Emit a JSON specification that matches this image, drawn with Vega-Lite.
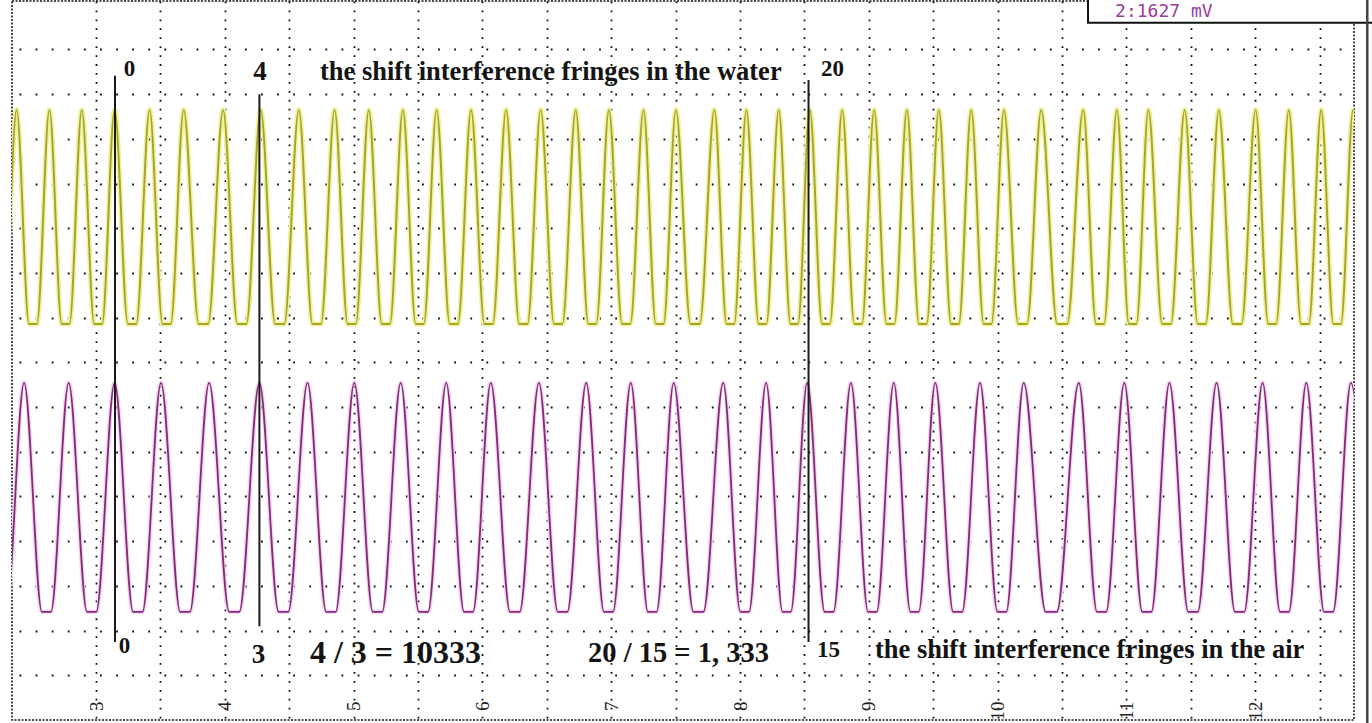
{
  "$schema": "https://vega.github.io/schema/vega-lite/v6.json",
  "autosize": {"type": "none"},
  "padding": {"left": 12, "top": 1, "right": 18, "bottom": 3},
  "width": 1342,
  "height": 719,
  "background": "white",
  "config": {
    "view": {"stroke": "#111", "strokeDash": [2, 1.5], "strokeWidth": 1.5}
  },
  "datasets": {
    "water": [{"t":2.2254,"v":8.86},{"t":2.2866,"v":8.86},{"t":2.3835,"v":13.65},{"t":2.4803,"v":8.86},{"t":2.5414,"v":8.86},{"t":2.6382,"v":13.65},{"t":2.7338,"v":8.86},{"t":2.7942,"v":8.86},{"t":2.8898,"v":13.65},{"t":2.9865,"v":8.86},{"t":3.0477,"v":8.86},{"t":3.1444,"v":13.65},{"t":3.2476,"v":8.86},{"t":3.3129,"v":8.86},{"t":3.4161,"v":13.65},{"t":3.5167,"v":8.86},{"t":3.5803,"v":8.86},{"t":3.6809,"v":13.65},{"t":3.7971,"v":8.86},{"t":3.8706,"v":8.86},{"t":3.9868,"v":13.65},{"t":4.0977,"v":8.86},{"t":4.1678,"v":8.86},{"t":4.2787,"v":13.65},{"t":4.3911,"v":8.86},{"t":4.4621,"v":8.86},{"t":4.5745,"v":13.65},{"t":4.6801,"v":8.86},{"t":4.7469,"v":8.86},{"t":4.8525,"v":13.65},{"t":4.9534,"v":8.86},{"t":5.0171,"v":8.86},{"t":5.118,"v":13.65},{"t":5.2186,"v":8.86},{"t":5.2822,"v":8.86},{"t":5.3828,"v":13.65},{"t":5.4822,"v":8.86},{"t":5.545,"v":8.86},{"t":5.6444,"v":13.65},{"t":5.7462,"v":8.86},{"t":5.8105,"v":8.86},{"t":5.9123,"v":13.65},{"t":6.0155,"v":8.86},{"t":6.0808,"v":8.86},{"t":6.184,"v":13.65},{"t":6.2861,"v":8.86},{"t":6.3506,"v":8.86},{"t":6.4527,"v":13.65},{"t":6.5559,"v":8.86},{"t":6.6212,"v":8.86},{"t":6.7244,"v":13.65},{"t":6.8223,"v":8.86},{"t":6.8842,"v":8.86},{"t":6.9821,"v":13.65},{"t":7.0842,"v":8.86},{"t":7.1487,"v":8.86},{"t":7.2508,"v":13.65},{"t":7.3464,"v":8.86},{"t":7.4067,"v":8.86},{"t":7.5023,"v":13.65},{"t":7.6159,"v":8.86},{"t":7.6876,"v":8.86},{"t":7.8012,"v":13.65},{"t":7.8956,"v":8.86},{"t":7.9553,"v":8.86},{"t":8.0497,"v":13.65},{"t":8.145,"v":8.86},{"t":8.2052,"v":8.86},{"t":8.3005,"v":13.65},{"t":8.3922,"v":8.86},{"t":8.4502,"v":8.86},{"t":8.5419,"v":13.65},{"t":8.6375,"v":8.86},{"t":8.6979,"v":8.86},{"t":8.7935,"v":13.65},{"t":8.8876,"v":8.86},{"t":8.9471,"v":8.86},{"t":9.0412,"v":13.65},{"t":9.1379,"v":8.86},{"t":9.1991,"v":8.86},{"t":9.2958,"v":13.65},{"t":9.3899,"v":8.86},{"t":9.4494,"v":8.86},{"t":9.5435,"v":13.65},{"t":9.6391,"v":8.86},{"t":9.6994,"v":8.86},{"t":9.795,"v":13.65},{"t":9.8918,"v":8.86},{"t":9.9529,"v":8.86},{"t":10.0497,"v":13.65},{"t":10.1594,"v":8.86},{"t":10.2288,"v":8.86},{"t":10.3385,"v":13.65},{"t":10.4624,"v":8.86},{"t":10.5407,"v":8.86},{"t":10.6646,"v":13.65},{"t":10.764,"v":8.86},{"t":10.8268,"v":8.86},{"t":10.9262,"v":13.65},{"t":11.0191,"v":8.86},{"t":11.0779,"v":8.86},{"t":11.1708,"v":13.65},{"t":11.2779,"v":8.86},{"t":11.3455,"v":8.86},{"t":11.4526,"v":13.65},{"t":11.5532,"v":8.86},{"t":11.6168,"v":8.86},{"t":11.7174,"v":13.65},{"t":11.826,"v":8.86},{"t":11.8945,"v":8.86},{"t":12.0031,"v":13.65},{"t":12.1011,"v":8.86},{"t":12.1629,"v":8.86},{"t":12.2609,"v":13.65},{"t":12.3565,"v":8.86},{"t":12.4168,"v":8.86},{"t":12.5124,"v":13.65},{"t":12.6065,"v":8.86},{"t":12.666,"v":8.86},{"t":12.7601,"v":13.65},{"t":12.857,"v":8.86}],
    "air": [{"t":2.2342,"v":2.42},{"t":2.3034,"v":2.42},{"t":2.4418,"v":7.54},{"t":2.5803,"v":2.42},{"t":2.6495,"v":2.42},{"t":2.788,"v":7.54},{"t":2.9306,"v":2.42},{"t":3.0018,"v":2.42},{"t":3.1444,"v":7.54},{"t":3.2885,"v":2.42},{"t":3.3606,"v":2.42},{"t":3.5047,"v":7.54},{"t":3.6541,"v":2.42},{"t":3.7287,"v":2.42},{"t":3.8781,"v":7.54},{"t":4.0343,"v":2.42},{"t":4.1124,"v":2.42},{"t":4.2686,"v":7.54},{"t":4.418,"v":2.42},{"t":4.4927,"v":2.42},{"t":4.6421,"v":7.54},{"t":4.7874,"v":2.42},{"t":4.8601,"v":2.42},{"t":5.0054,"v":7.54},{"t":5.1495,"v":2.42},{"t":5.2216,"v":2.42},{"t":5.3657,"v":7.54},{"t":5.507,"v":2.42},{"t":5.5776,"v":2.42},{"t":5.7189,"v":7.54},{"t":5.8574,"v":2.42},{"t":5.9267,"v":2.42},{"t":6.0652,"v":7.54},{"t":6.2146,"v":2.42},{"t":6.2892,"v":2.42},{"t":6.4386,"v":7.54},{"t":6.5855,"v":2.42},{"t":6.659,"v":2.42},{"t":6.8059,"v":7.54},{"t":6.9444,"v":2.42},{"t":7.0137,"v":2.42},{"t":7.1522,"v":7.54},{"t":7.2854,"v":2.42},{"t":7.352,"v":2.42},{"t":7.4852,"v":7.54},{"t":7.639,"v":2.42},{"t":7.7158,"v":2.42},{"t":7.8696,"v":7.54},{"t":8.0028,"v":2.42},{"t":8.0695,"v":2.42},{"t":8.2027,"v":7.54},{"t":8.3303,"v":2.42},{"t":8.3941,"v":2.42},{"t":8.5217,"v":7.54},{"t":8.6574,"v":2.42},{"t":8.7253,"v":2.42},{"t":8.861,"v":7.54},{"t":8.9942,"v":2.42},{"t":9.0609,"v":2.42},{"t":9.1941,"v":7.54},{"t":9.323,"v":2.42},{"t":9.3874,"v":2.42},{"t":9.5163,"v":7.54},{"t":9.6551,"v":2.42},{"t":9.7246,"v":2.42},{"t":9.8634,"v":7.54},{"t":9.9991,"v":2.42},{"t":10.067,"v":2.42},{"t":10.2027,"v":7.54},{"t":10.3738,"v":2.42},{"t":10.4593,"v":2.42},{"t":10.6304,"v":7.54},{"t":10.7717,"v":2.42},{"t":10.8424,"v":2.42},{"t":10.9837,"v":7.54},{"t":11.1238,"v":2.42},{"t":11.1938,"v":2.42},{"t":11.3339,"v":7.54},{"t":11.4805,"v":2.42},{"t":11.5537,"v":2.42},{"t":11.7003,"v":7.54},{"t":11.8432,"v":2.42},{"t":11.9146,"v":2.42},{"t":12.0575,"v":7.54},{"t":12.1932,"v":2.42},{"t":12.261,"v":2.42},{"t":12.3967,"v":7.54},{"t":12.5352,"v":2.42},{"t":12.6045,"v":2.42},{"t":12.743,"v":7.54},{"t":12.88,"v":2.42}]
  },
  "layer": [
    {
      "data": {"name": "water"},
      "mark": {"type": "line", "interpolate": "monotone", "stroke": "#f1f1a0", "strokeWidth": 5, "clip": true},
      "encoding": {
        "x": {"field": "t", "type": "quantitative",
          "scale": {"domain": [2.3478, 12.767], "nice": false, "zero": false},
          "axis": {"values": [3,3.5,4,4.5,5,5.5,6,6.5,7,7.5,8,8.5,9,9.5,10,10.5,11,11.5,12,12.5],
            "grid": true, "gridColor": "#111", "gridWidth": 1.8, "gridDash": [1.8, 7.14], "gridOpacity": 1,
            "domain": false, "ticks": false, "tickSize": 0, "title": null,
            "labelAngle": -90, "labelAlign": "right", "labelBaseline": "middle", "labelPadding": -19,
            "labelFont": "Liberation Serif", "labelFontSize": 19, "labelColor": "#222",
            "labelOverlap": false, "labelFlush": false, "labelBound": false,
            "labelExpr": "datum.value % 1 == 0 ? format(datum.value, 'd') : ''"}},
        "y": {"field": "v", "type": "quantitative",
          "scale": {"domain": [0, 16.085], "nice": false, "zero": false},
          "axis": {"values": [1,2,3,4,5,6,7,8,9,10,11,12,13,14,15],
            "grid": true, "gridColor": "#111", "gridWidth": 1.8, "gridDash": [1.8, 14.3], "gridDashOffset": 9.1, "gridOpacity": 1,
            "domain": false, "ticks": false, "labels": false, "title": null}}
      }
    },
    {
      "data": {"name": "air"},
      "mark": {"type": "line", "interpolate": "monotone", "stroke": "#f3d8ef", "strokeWidth": 4.5, "clip": true},
      "encoding": {
        "x": {"field": "t", "type": "quantitative"},
        "y": {"field": "v", "type": "quantitative"}
      }
    },
    {
      "data": {"name": "water"},
      "mark": {"type": "line", "interpolate": "monotone", "stroke": "#a4a42a", "strokeWidth": 1.9, "clip": true},
      "encoding": {
        "x": {"field": "t", "type": "quantitative"},
        "y": {"field": "v", "type": "quantitative"}
      }
    },
    {
      "data": {"name": "air"},
      "mark": {"type": "line", "interpolate": "monotone", "stroke": "#842a7c", "strokeWidth": 1.8, "clip": true},
      "encoding": {
        "x": {"field": "t", "type": "quantitative"},
        "y": {"field": "v", "type": "quantitative"}
      }
    },
    {
      "data": {"values": [
        {"t": 3.1475, "v": 14.41, "v2": 1.745},
        {"t": 4.2686, "v": 14.0, "v2": 2.1},
        {"t": 8.532, "v": 14.32, "v2": 1.745}
      ]},
      "mark": {"type": "rule", "color": "#1a1a1a", "strokeWidth": 2},
      "encoding": {
        "x": {"field": "t", "type": "quantitative"},
        "y": {"field": "v", "type": "quantitative"},
        "y2": {"field": "v2"}
      }
    },
    {
      "data": {"values": [
        {"t": 3.26, "v": 14.41, "label": "0"},
        {"t": 8.718, "v": 14.41, "label": "20"},
        {"t": 3.221, "v": 1.5, "label": "0"},
        {"t": 8.687, "v": 1.41, "label": "15"}
      ]},
      "mark": {"type": "text", "font": "Liberation Serif", "fontWeight": "bold", "fontSize": 23, "align": "center", "baseline": "alphabetic", "color": "#141414"},
      "encoding": {
        "x": {"field": "t", "type": "quantitative"},
        "y": {"field": "v", "type": "quantitative"},
        "text": {"field": "label"}
      }
    },
    {
      "data": {"values": [
        {"t": 4.273, "v": 14.32, "label": "4"},
        {"t": 4.262, "v": 1.275, "label": "3"}
      ]},
      "mark": {"type": "text", "font": "Liberation Serif", "fontWeight": "bold", "fontSize": 27, "align": "center", "baseline": "alphabetic", "color": "#141414"},
      "encoding": {
        "x": {"field": "t", "type": "quantitative"},
        "y": {"field": "v", "type": "quantitative"},
        "text": {"field": "label"}
      }
    },
    {
      "data": {"values": [
        {"t": 4.739, "v": 14.32, "label": "the shift interference fringes in the water"},
        {"t": 9.048, "v": 1.39, "label": "the shift interference fringes in the air"}
      ]},
      "mark": {"type": "text", "font": "Liberation Serif", "fontWeight": "bold", "fontSize": 26.5, "align": "left", "baseline": "alphabetic", "color": "#141414"},
      "encoding": {
        "x": {"field": "t", "type": "quantitative"},
        "y": {"field": "v", "type": "quantitative"},
        "text": {"field": "label"}
      }
    },
    {
      "data": {"values": [
        {"t": 4.661, "v": 1.275, "label": "4 / 3 = 10333"}
      ]},
      "mark": {"type": "text", "font": "Liberation Serif", "fontWeight": "bold", "fontSize": 32, "align": "left", "baseline": "alphabetic", "color": "#141414"},
      "encoding": {
        "x": {"field": "t", "type": "quantitative"},
        "y": {"field": "v", "type": "quantitative"},
        "text": {"field": "label"}
      }
    },
    {
      "data": {"values": [
        {"t": 6.82, "v": 1.3, "label": "20 / 15 = 1, 333"}
      ]},
      "mark": {"type": "text", "font": "Liberation Serif", "fontWeight": "bold", "fontSize": 28.5, "align": "left", "baseline": "alphabetic", "color": "#141414"},
      "encoding": {
        "x": {"field": "t", "type": "quantitative"},
        "y": {"field": "v", "type": "quantitative"},
        "text": {"field": "label"}
      }
    },
    {
      "data": {"values": [{"t": 10.702, "t2": 13.0, "v": 15.6, "v2": 16.3}]},
      "mark": {"type": "rect", "fill": "white", "stroke": "#111", "strokeWidth": 2},
      "encoding": {
        "x": {"field": "t", "type": "quantitative"},
        "x2": {"field": "t2"},
        "y": {"field": "v", "type": "quantitative"},
        "y2": {"field": "v2"}
      }
    },
    {
      "data": {"values": [{"t": 10.912, "v": 15.727, "label": "2:1627 mV"}]},
      "mark": {"type": "text", "font": "DejaVu Sans Mono", "fontSize": 18, "align": "left", "baseline": "alphabetic", "color": "#9a3c9a"},
      "encoding": {
        "x": {"field": "t", "type": "quantitative"},
        "y": {"field": "v", "type": "quantitative"},
        "text": {"field": "label"}
      }
    },
    {
      "data": {"values": [{"t": 12.87, "v": -0.1, "v2": 16.2}]},
      "mark": {"type": "rule", "color": "#444", "strokeWidth": 2.5},
      "encoding": {
        "x": {"field": "t", "type": "quantitative"},
        "y": {"field": "v", "type": "quantitative"},
        "y2": {"field": "v2"}
      }
    }
  ]
}
